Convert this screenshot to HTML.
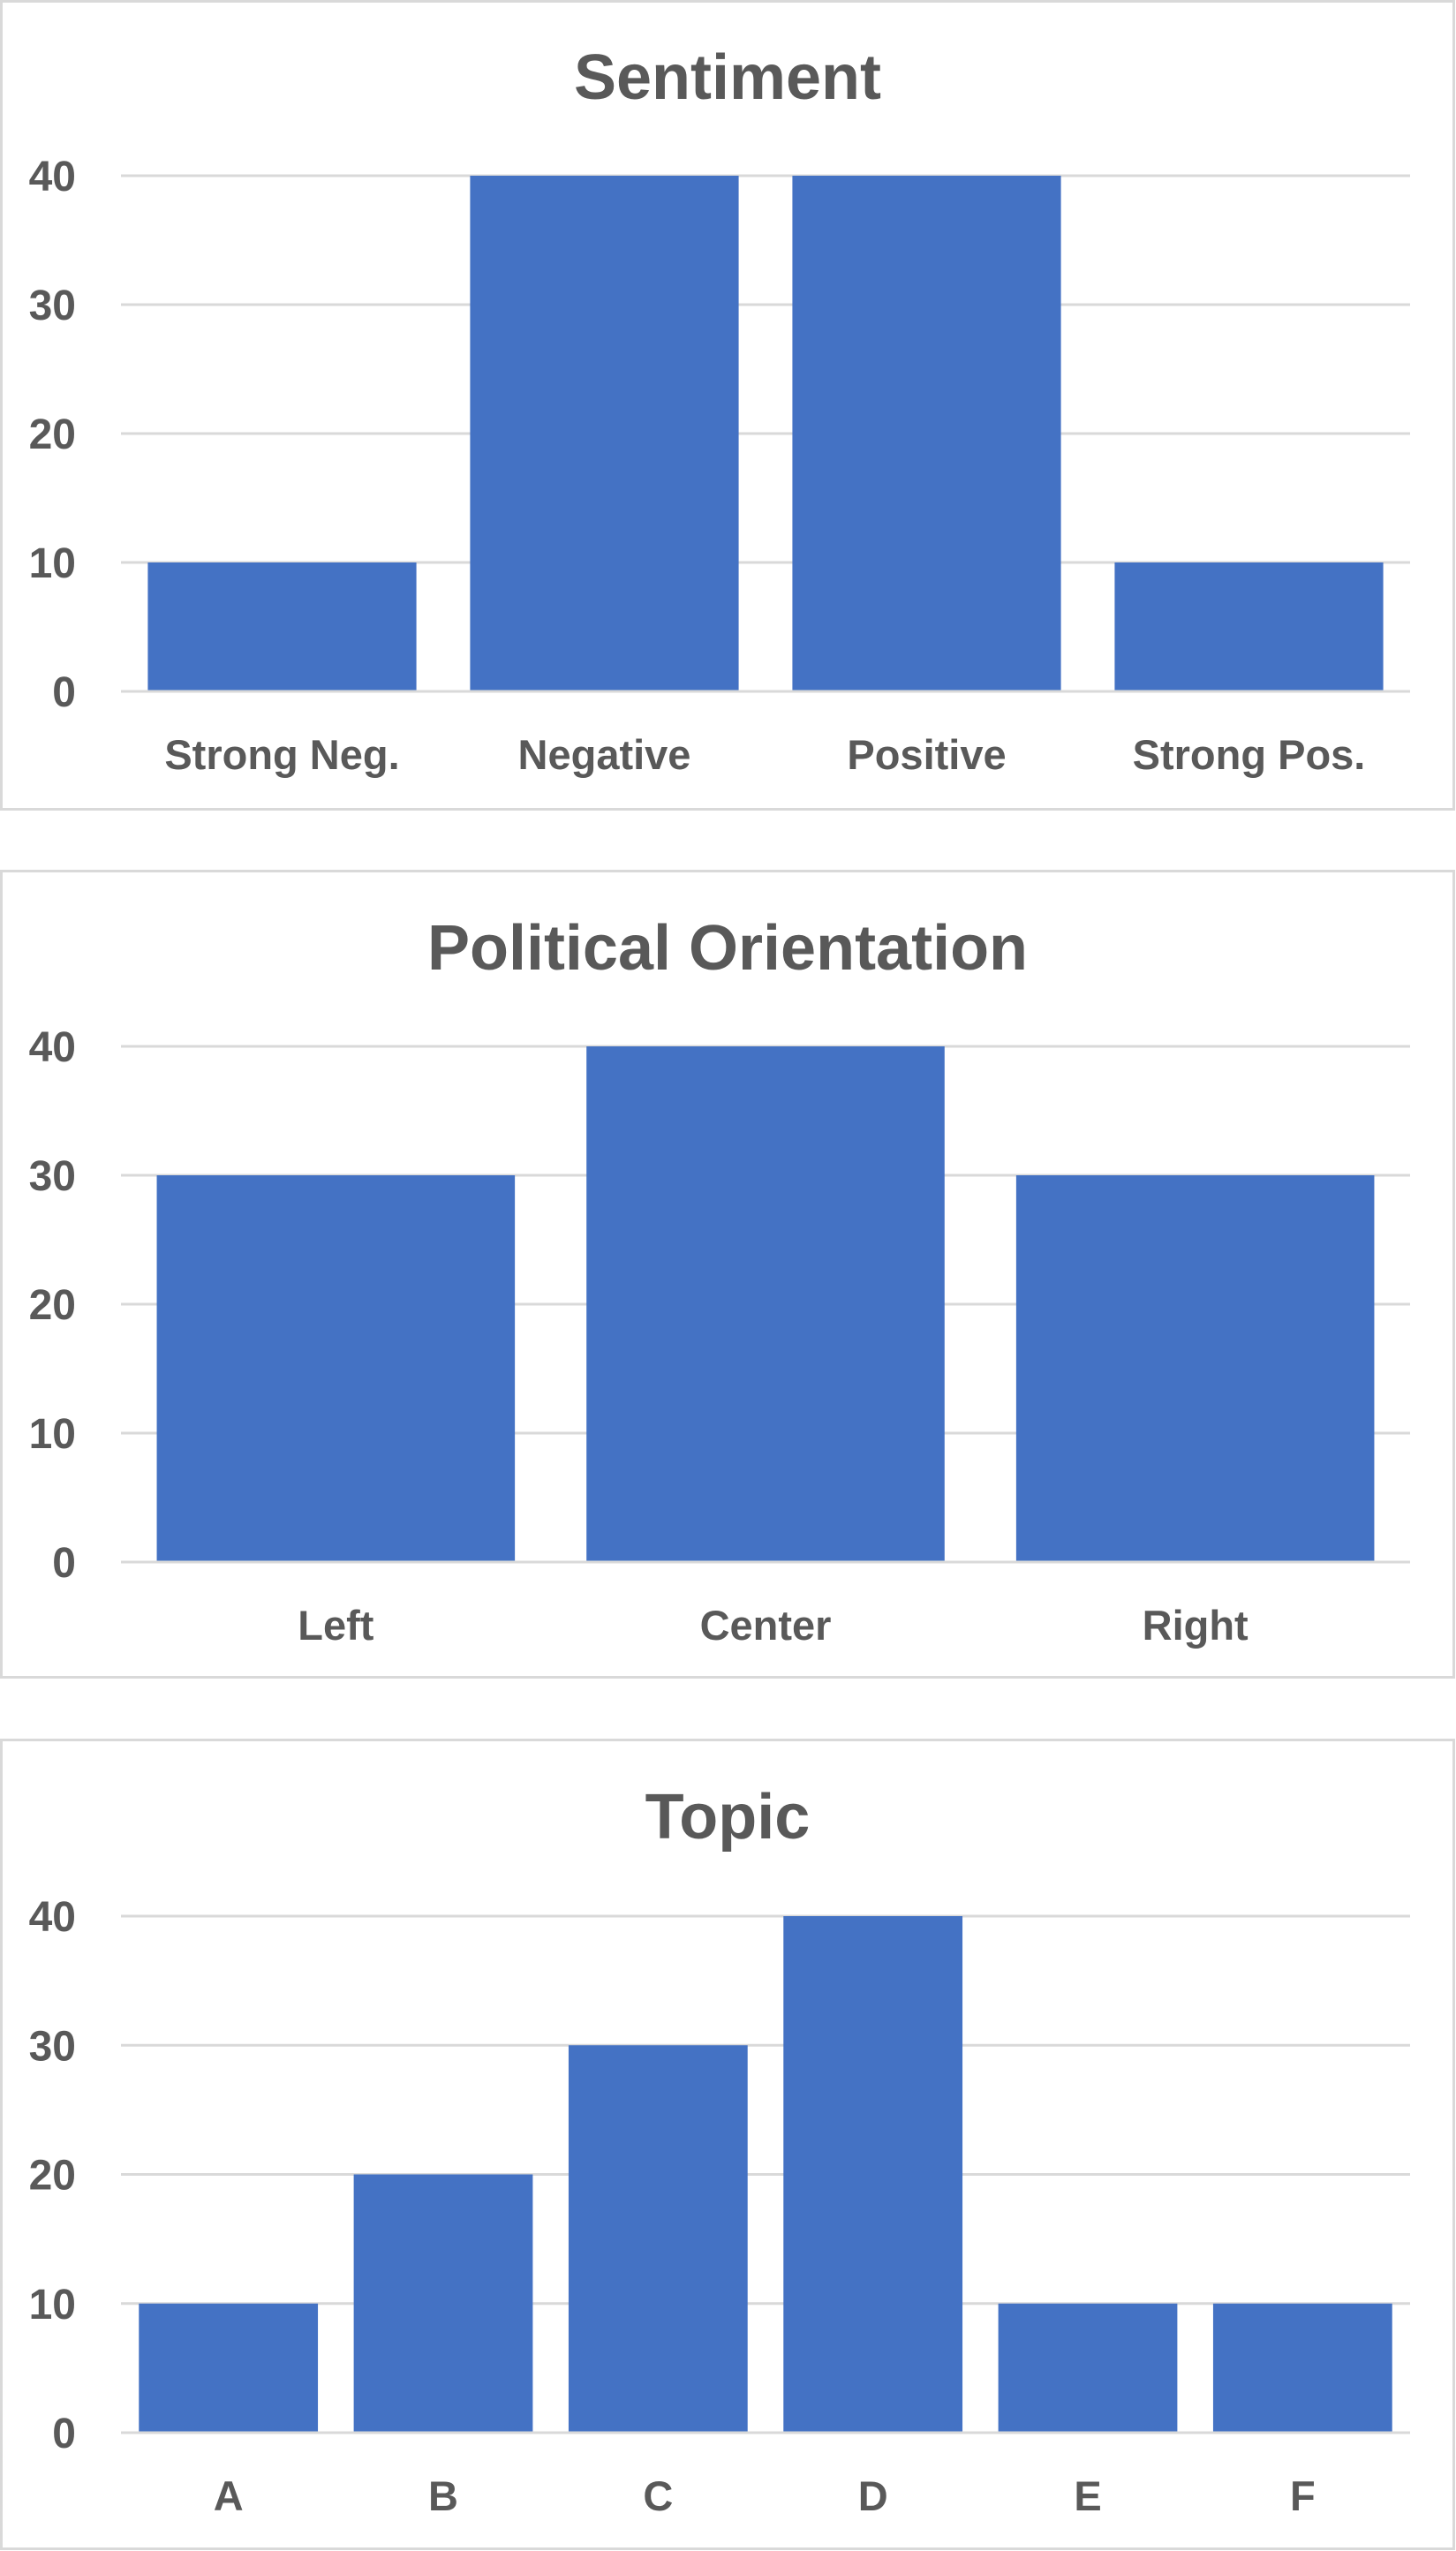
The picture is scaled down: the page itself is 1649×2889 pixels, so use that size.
<!DOCTYPE html>
<html><head><meta charset="utf-8"><style>
html,body{margin:0;padding:0;background:#fff;}
svg{display:block;}
text{font-family:"Liberation Sans",sans-serif;font-weight:bold;fill:#595959;}
</style></head><body>
<svg id="root" width="1649" height="2889" viewBox="0 0 1649 2889" xmlns="http://www.w3.org/2000/svg"></svg>
<script>
const sentimentCategories = ["Strong Neg.", "Negative", "Positive", "Strong Pos."];
const sentimentValues = [10, 40, 40, 10];
const politicalCategories = ["Left", "Center", "Right"];
const politicalValues = [30, 40, 30];
const topicCategories = ["A", "B", "C", "D", "E", "F"];
const topicValues = [10, 20, 30, 40, 10, 10];
const yTicks = [0, 10, 20, 30, 40];

const NS = "http://www.w3.org/2000/svg";
const root = document.getElementById("root");
function mk(tag, attrs, parent) {
  const e = document.createElementNS(NS, tag);
  for (const k in attrs) e.setAttribute(k, attrs[k]);
  parent.appendChild(e);
  return e;
}

function drawChart(cfg, title, cats, vals) {
  const g = mk("g", {}, root);
  
  
  const box = mk("rect", {x: 1.5, y: cfg.top + 1.5, width: 1645, height: cfg.height - 3, fill: "#fff", stroke: "#D9D9D9", "stroke-width": 3}, g);
  
  
  const t = mk("text", {x: 824, y: cfg.titleY, "text-anchor": "middle", "font-size": 72}, g);
  t.textContent = title;
  
  
  const x0 = 137, x1 = 1597, y0 = cfg.axis0, yTop = cfg.axis40;
  const yScale = v => y0 - (v / 40) * (y0 - yTop);
  yTicks.forEach(v => {
    const y = yScale(v);
    const l = mk("line", {x1: x0, x2: x1, y1: y, y2: y, stroke: "#D9D9D9", "stroke-width": 3}, g);
    
    
    const tx = mk("text", {x: 86, y: y + 17, "text-anchor": "end", "font-size": 48}, g);
    tx.textContent = v;
    
    
  });
  const slot = (x1 - x0) / cats.length;
  const bw = slot / 1.2;
  const off = (slot - bw) / 2;
  cats.forEach((c, i) => {
    const bx = x0 + i * slot + off;
    const by = yScale(vals[i]);
    const r = mk("rect", {x: bx, y: by, width: bw, height: y0 - by - 1.5, fill: "#4472C4"}, g);
    
    
    const lt = mk("text", {x: x0 + i * slot + slot / 2, y: y0 + 88, "text-anchor": "middle", "font-size": 47}, g);
    lt.textContent = c;
    
    
  });
}

drawChart({name: "sentiment-chart", top: 0, height: 918, titleY: 112, axis0: 783, axis40: 199}, "Sentiment", sentimentCategories, sentimentValues);
drawChart({name: "political-orientation-chart", top: 985, height: 916, titleY: 1098, axis0: 1769, axis40: 1185}, "Political Orientation", politicalCategories, politicalValues);
drawChart({name: "topic-chart", top: 1969, height: 919, titleY: 2082, axis0: 2755, axis40: 2170}, "Topic", topicCategories, topicValues);
</script>
</body></html>
